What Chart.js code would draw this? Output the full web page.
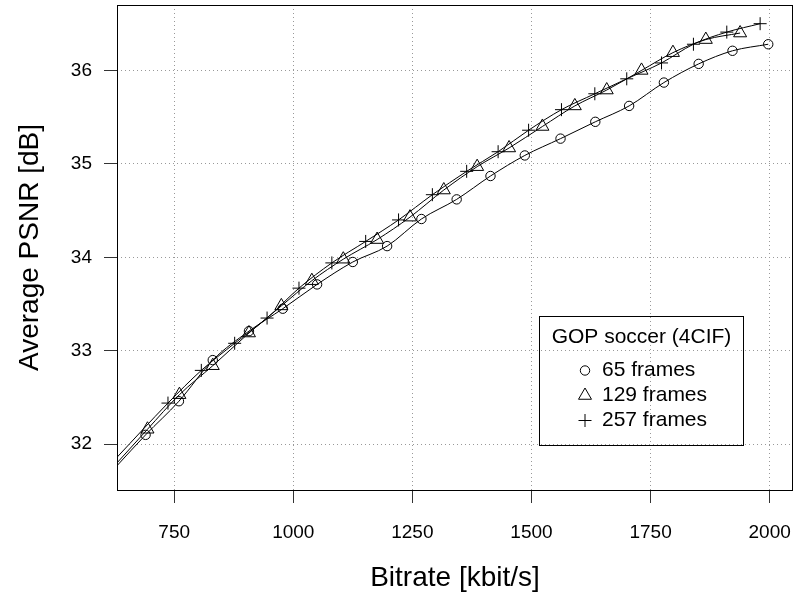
<!DOCTYPE html>
<html>
<head>
<meta charset="utf-8">
<script src="https://cdn.jsdelivr.net/npm/chart.js"></script>
<style>
  html, body { margin: 0; padding: 0; background: #fff; }
  #wrap { width: 795px; height: 597px; }
</style>
</head>
<body>
<div id="wrap"><canvas id="psnr" width="795" height="597"></canvas></div>
<script>
// values
// first entry of every series is where the curve meets the left frame (no marker there)
const bitrate65  = [630, 690, 760, 831, 907, 978, 1050, 1125, 1197, 1269, 1343, 1414, 1486, 1561, 1634, 1705, 1778, 1851, 1922, 1997];
const psnr65     = [31.77, 32.10, 32.46, 32.90, 33.21, 33.45, 33.71, 33.95, 34.12, 34.41, 34.62, 34.87, 35.09, 35.27, 35.45, 35.62, 35.87, 36.07, 36.21, 36.28];
const bitrate129 = [630, 694, 761, 831, 907, 975, 1039, 1105, 1176, 1245, 1316, 1386, 1453, 1523, 1591, 1658, 1731, 1797, 1866, 1938];
const psnr129    = [31.80, 32.16, 32.53, 32.84, 33.19, 33.48, 33.75, 33.98, 34.19, 34.43, 34.72, 34.97, 35.17, 35.40, 35.62, 35.79, 36.00, 36.19, 36.33, 36.40];
const bitrate257 = [630, 737, 807, 877, 945, 1012, 1081, 1152, 1221, 1292, 1364, 1430, 1494, 1563, 1633, 1700, 1773, 1840, 1910, 1980];
const psnr257    = [31.86, 32.44, 32.79, 33.08, 33.35, 33.67, 33.94, 34.17, 34.40, 34.67, 34.92, 35.13, 35.36, 35.58, 35.75, 35.91, 36.08, 36.28, 36.41, 36.50];

const seriesLabels = ['65 frames', '129 frames', '257 frames'];
const legendTitle = 'GOP soccer (4CIF)';
const xTicks = [750, 1000, 1250, 1500, 1750, 2000];
const yTicks = [32, 33, 34, 35, 36];

const FONT = '"Liberation Sans", Arial, Helvetica, sans-serif';

function pairs(xs, ys) {
  return xs.map((x, i) => ({ x: x, y: ys[i] }));
}

function lineSet(label, xs, ys, style, radius) {
  return {
    label: label,
    data: pairs(xs, ys),
    borderColor: '#000',
    borderWidth: 1,
    backgroundColor: 'rgba(0,0,0,0)',
    pointStyle: style,
    pointRadius: ctx => ctx.dataIndex === 0 ? 0 : radius,
    pointHoverRadius: ctx => ctx.dataIndex === 0 ? 0 : radius,
    pointBorderColor: '#000',
    pointBorderWidth: 1,
    pointBackgroundColor: 'rgba(0,0,0,0)',
    cubicInterpolationMode: 'monotone',
    fill: false
  };
}

// plot frame + legend box drawn on top
const frameAndLegend = {
  id: 'frameAndLegend',
  afterDraw(chart) {
    const { ctx, chartArea: a } = chart;
    ctx.save();
    ctx.strokeStyle = '#000';
    ctx.lineWidth = 1;
    ctx.strokeRect(Math.round(a.left) + 0.5, Math.round(a.top) + 0.5,
      Math.round(a.right - a.left) - 1, Math.round(a.bottom - a.top));

    // legend
    const bx = 539.5, by = 316.5, bw = 204, bh = 129;
    ctx.strokeRect(bx, by, bw, bh);
    ctx.fillStyle = '#000';
    ctx.font = '21px ' + FONT;
    ctx.textBaseline = 'middle';
    ctx.textAlign = 'center';
    ctx.fillText(legendTitle, bx + bw / 2, by + 21);
    ctx.textAlign = 'left';
    const rows = [by + 54, by + 79, by + 104];
    const sx = 585;
    rows.forEach((ry, i) => {
      ctx.beginPath();
      if (i === 0) {
        ctx.arc(sx, ry, 4.7, 0, Math.PI * 2);
      } else if (i === 1) {
        const r = 7.5;
        ctx.moveTo(sx, ry - r);
        ctx.lineTo(sx + r * Math.sin(2 * Math.PI / 3), ry - r * Math.cos(2 * Math.PI / 3));
        ctx.lineTo(sx + r * Math.sin(4 * Math.PI / 3), ry - r * Math.cos(4 * Math.PI / 3));
        ctx.closePath();
      } else {
        ctx.moveTo(sx - 6.5, ry); ctx.lineTo(sx + 6.5, ry);
        ctx.moveTo(sx, ry - 6.5); ctx.lineTo(sx, ry + 6.5);
      }
      ctx.stroke();
      ctx.fillText(seriesLabels[i], 602, ry);
    });
    ctx.restore();
  }
};

new Chart(document.getElementById('psnr'), {
  type: 'line',
  data: {
    datasets: [
      lineSet(seriesLabels[0], bitrate65, psnr65, 'circle', 4.7),
      lineSet(seriesLabels[1], bitrate129, psnr129, 'triangle', 7.5),
      lineSet(seriesLabels[2], bitrate257, psnr257, 'cross', 6.5)
    ]
  },
  options: {
    responsive: false,
    animation: false,
    devicePixelRatio: 1,
    layout: { autoPadding: false, padding: { left: 0, right: 2, top: 5, bottom: 0 } },
    plugins: { legend: { display: false }, tooltip: { enabled: false } },
    scales: {
      x: {
        type: 'linear',
        min: 630,
        max: 2049,
        afterBuildTicks: s => { s.ticks = xTicks.map(v => ({ value: v })); },
        afterFit: s => { s.height = 107; s.paddingLeft = 0; s.paddingRight = 0; },
        grid: { color: '#999', lineWidth: 1, tickLength: 13, tickColor: '#333', tickWidth: 1 },
        border: { display: false, dash: [1, 3] },
        ticks: { color: '#000', padding: 18, maxRotation: 0, font: { family: FONT, size: 19 },
          callback: v => String(v) },
        title: { display: true, text: 'Bitrate [kbit/s]', color: '#000',
          padding: { top: 0, bottom: 2 }, font: { family: FONT, size: 28 } }
      },
      y: {
        type: 'linear',
        min: 31.51,
        max: 36.70,
        afterBuildTicks: s => { s.ticks = yTicks.map(v => ({ value: v })); },
        afterFit: s => { s.width = 117; s.paddingTop = 0; s.paddingBottom = 0; },
        grid: { color: '#999', lineWidth: 1, tickLength: 13, tickColor: '#333', tickWidth: 1 },
        border: { display: false, dash: [1, 3] },
        ticks: { color: '#000', padding: 12, font: { family: FONT, size: 19 },
          callback: v => String(v) },
        title: { display: true, text: 'Average PSNR [dB]', color: '#000',
          padding: { top: 13, bottom: 0 }, font: { family: FONT, size: 28 } }
      }
    }
  },
  plugins: [frameAndLegend]
});
</script>
</body>
</html>
